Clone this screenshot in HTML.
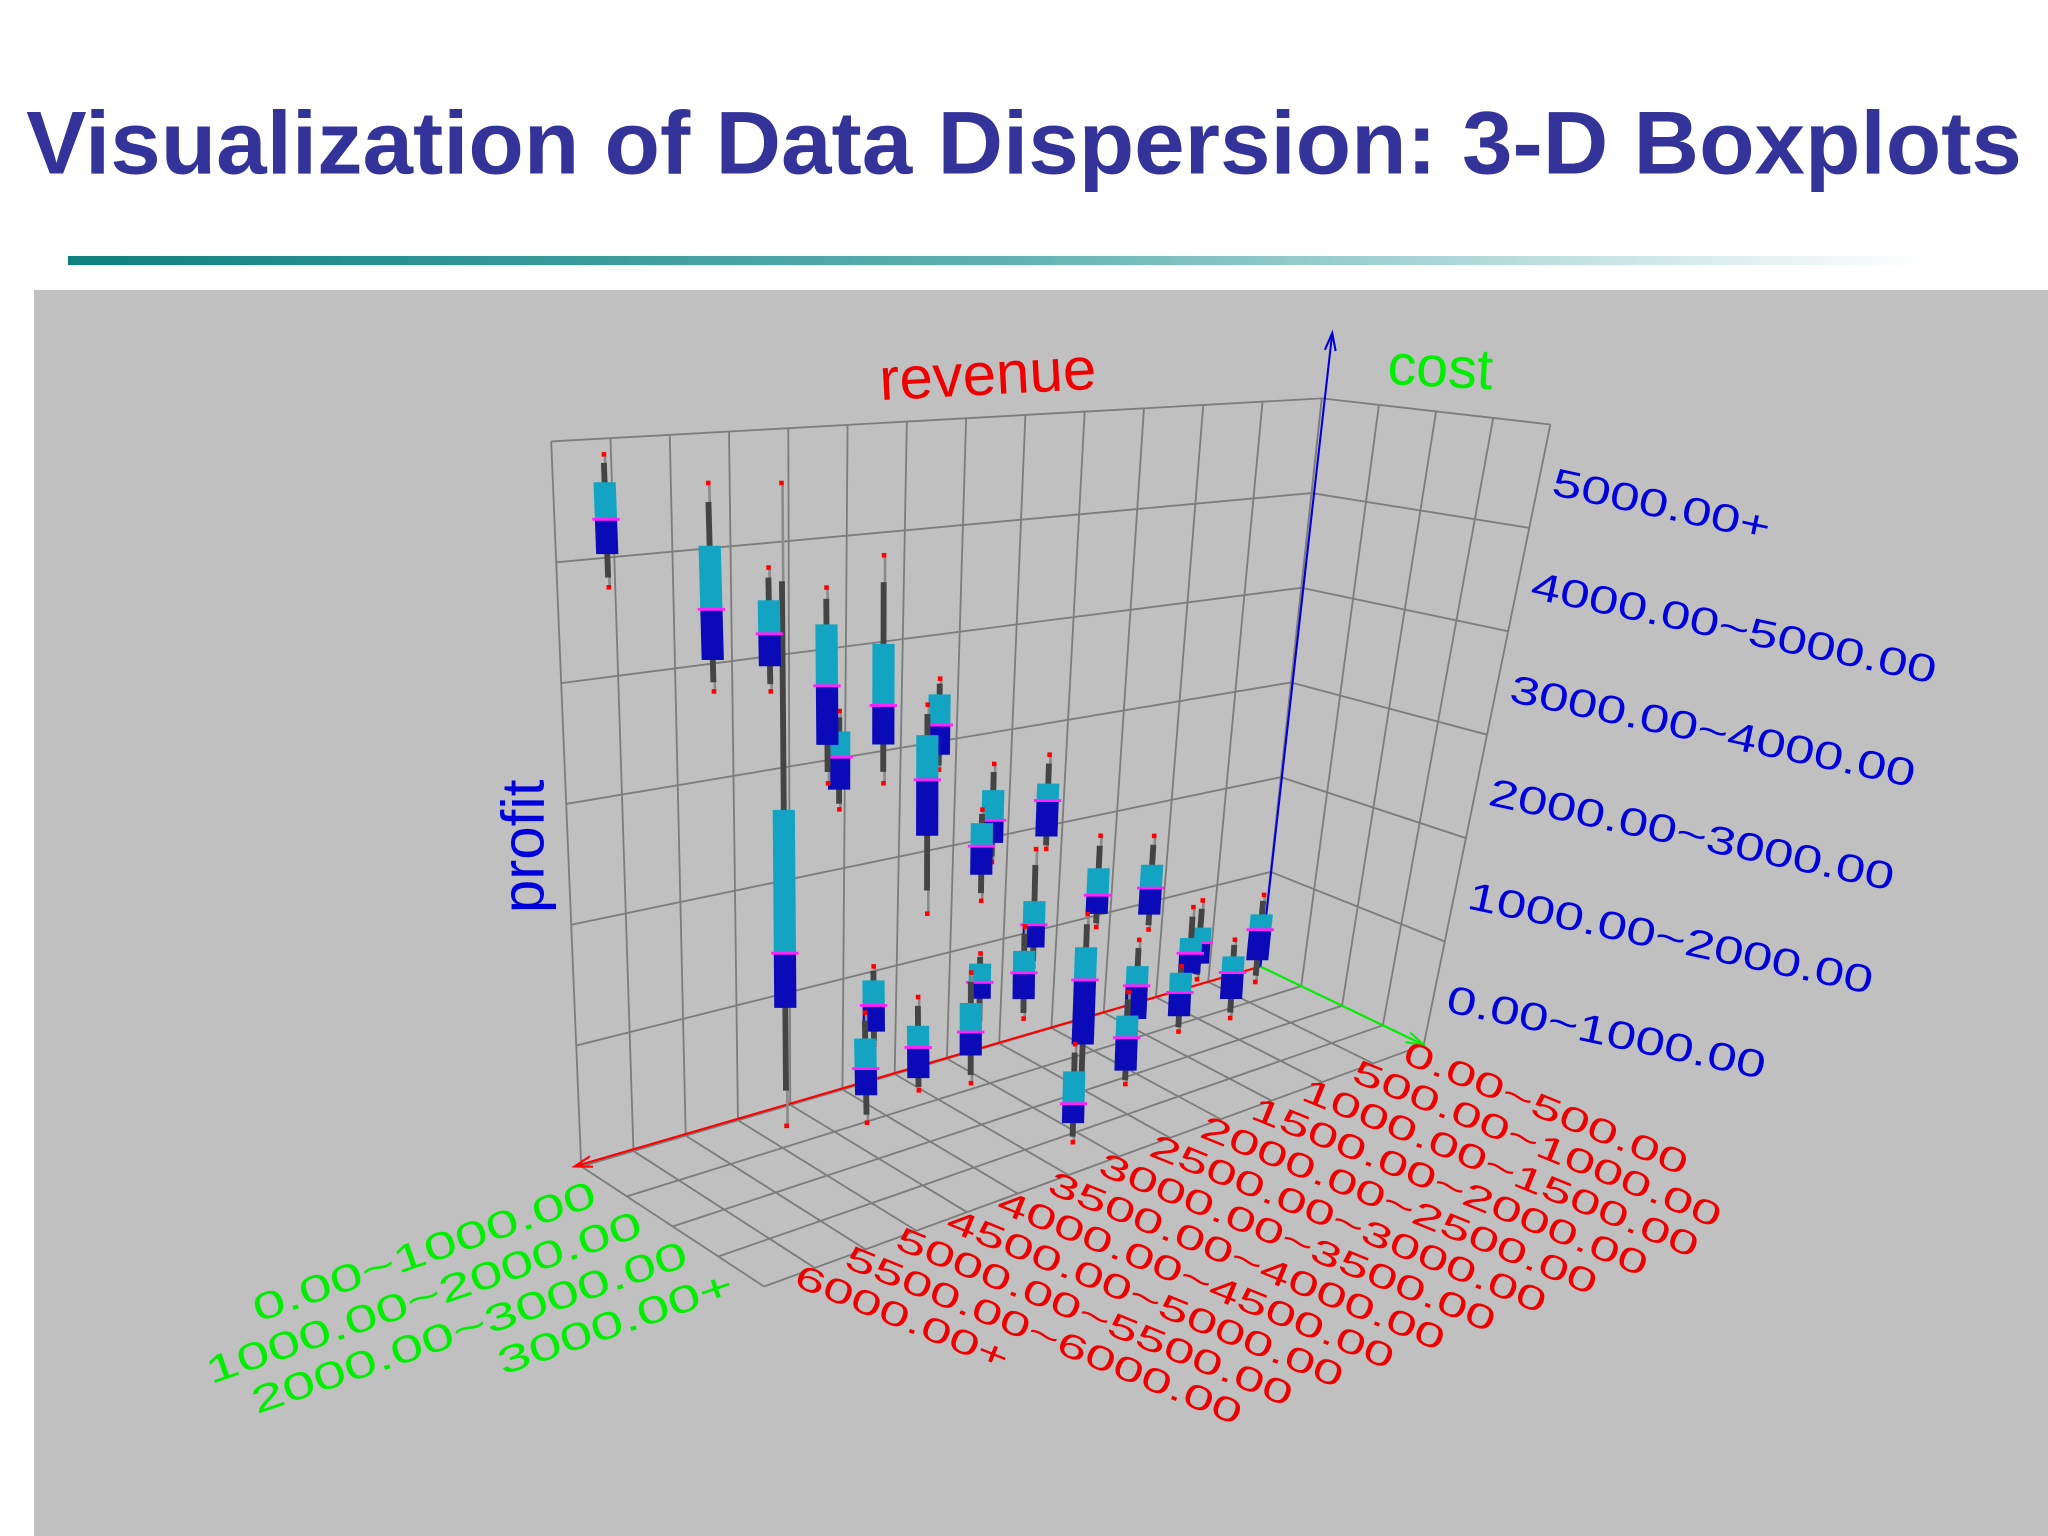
<!DOCTYPE html>
<html><head><meta charset="utf-8"><style>
html,body{margin:0;padding:0;background:#fff;}
svg{display:block;}
</style></head><body>
<svg id="chart" width="2048" height="1536" viewBox="0 0 1568 1176" xmlns="http://www.w3.org/2000/svg" font-family="Liberation Sans, sans-serif">
<defs>
<linearGradient id="rule" x1="0" x2="1" y1="0" y2="0">
<stop offset="0" stop-color="#0f7f80"/><stop offset="0.5" stop-color="#5fb0b0"/><stop offset="1" stop-color="#ffffff"/>
</linearGradient>
</defs>
<text x="20" y="133" font-size="68" font-weight="bold" fill="#333399" textLength="1528" lengthAdjust="spacingAndGlyphs">Visualization of Data Dispersion: 3-D Boxplots</text>
<rect x="52" y="196" width="1420" height="7" fill="url(#rule)"/>
<rect x="26" y="222" width="1542" height="954" fill="#c0c0c0"/>
<g id="grid"></g>
<g id="axes"></g>
<g id="boxes"></g>
<g id="labels"></g>
</svg>
<script>
const revenueLabels = ["0.00~500.00","500.00~1000.00","1000.00~1500.00","1500.00~2000.00","2000.00~2500.00","2500.00~3000.00","3000.00~3500.00","3500.00~4000.00","4000.00~4500.00","4500.00~5000.00","5000.00~5500.00","5500.00~6000.00","6000.00+"];
const costLabels = ["0.00~1000.00","1000.00~2000.00","2000.00~3000.00","3000.00+"];
const profitLabels = ["0.00~1000.00","1000.00~2000.00","2000.00~3000.00","3000.00~4000.00","4000.00~5000.00","5000.00+"];
// boxplot data: revenue category index, cost category index, profit (thousands)
const boxRev  = [12,11,10,9,9,8,8,7,8,6,7,5,4,3,6,7,5,4,3,4,2,3,0,10,9,9,8,7,6,5];
const boxCost = [0,1,1,0,1,1,0,1,2,1,2,1,1,1,2,3,2,2,2,3,1,3,0,3,3,2,3,2,3,3];
const boxMin  = [4.89,4.2,4.13,0,3.25,3.16,2.69,3.19,2.23,2.24,2.23,2.25,1.38,1.22,1.5,1.39,0.26,0.6,0.82,0.82,0.58,0.79,0.02,0.89,1.03,1.19,0.95,1.04,0.1,0.48];
const boxQ1   = [5.17,4.47,4.35,1.04,3.59,3.51,2.87,3.33,2.93,2.42,2.47,2.37,1.51,1.37,1.68,1.57,0.63,0.72,1.01,0.97,0.74,0.98,0.25,1.13,1.14,1.31,1.2,1.34,0.28,0.61];
const boxMed  = [5.46,4.9,4.63,1.52,4.11,3.86,3.16,3.6,3.43,2.63,2.73,2.71,1.69,1.63,1.89,1.81,1.24,1.04,1.21,1.2,0.95,1.24,0.57,1.36,1.41,1.54,1.41,1.49,0.46,0.92];
const boxQ3   = [5.77,5.44,4.92,2.78,4.65,4.41,3.39,3.88,3.83,2.91,2.94,2.87,1.95,1.86,2.11,2.01,1.55,1.23,1.36,1.39,1.1,1.4,0.73,1.62,1.6,1.76,1.67,1.66,0.76,1.13];
const boxMax  = [6.0,5.97,5.2,5.65,4.97,5.2,3.57,4.02,4.1,3.15,3.06,3.14,2.26,2.14,2.59,2.23,1.86,1.48,1.66,1.45,1.37,1.56,0.93,1.84,1.85,1.88,1.94,1.75,1.01,1.35];

const NS="http://www.w3.org/2000/svg";
const C=[965,740], BL=[445,893], F=[1090,800], G=[585,985], CT=[1012,305], TL=[422,338], FT=[1187,325];
const NR=13, NC=4, NP=6;
function lerp(a,b,t){return [a[0]+(b[0]-a[0])*t,a[1]+(b[1]-a[1])*t];}
function bil(p00,p10,p11,p01,s,t){return lerp(lerp(p00,p10,s),lerp(p01,p11,s),t);}
function floorPt(u,w){return bil(C,BL,G,F,u,w);}
function project(rev,cost,profit){
  const u=rev/NR, w=cost/NC;
  const base=floorPt(u,w);
  const back=lerp(C,BL,u), top=lerp(CT,TL,u);
  const k=profit/NP;
  return [base[0]+(top[0]-back[0])*k, base[1]+(top[1]-back[1])*k];
}
function el(tag,attrs,parent){const e=document.createElementNS(NS,tag);for(const k in attrs)e.setAttribute(k,attrs[k]);parent.appendChild(e);return e;}
function line(p,q,col,wd,parent,name){const e=el('line',{x1:p[0],y1:p[1],x2:q[0],y2:q[1],stroke:col,'stroke-width':wd},parent);

return e;}
const grid=document.getElementById('grid');
const gc="#7c7c7c";
for(let i=0;i<=NR;i++){const s=i/NR;line(bil(C,BL,TL,CT,s,0),bil(C,BL,TL,CT,s,1),gc,1.4,grid,'back-wall-gridline');}
for(let j=0;j<=NP;j++){const t=j/NP;line(bil(C,BL,TL,CT,0,t),bil(C,BL,TL,CT,1,t),gc,1.4,grid,'back-wall-gridline');}
for(let i=0;i<=NC;i++){const s=i/NC;line(bil(C,F,FT,CT,s,0),bil(C,F,FT,CT,s,1),gc,1.4,grid,'side-wall-gridline');}
for(let j=0;j<=NP;j++){const t=j/NP;line(bil(C,F,FT,CT,0,t),bil(C,F,FT,CT,1,t),gc,1.4,grid,'side-wall-gridline');}
for(let i=0;i<=NR;i++){const s=i/NR;line(floorPt(s,0),floorPt(s,1),gc,1.4,grid,'floor-gridline');}
for(let j=0;j<=NC;j++){const t=j/NC;line(floorPt(0,t),floorPt(1,t),gc,1.4,grid,'floor-gridline');}
const axes=document.getElementById('axes');
function arrow(p,q,col,name){
  line(p,q,col,1.6,axes,name);
  const a=Math.atan2(q[1]-p[1],q[0]-p[0]),L=14,sp=0.3;
  const h1=[q[0]-L*Math.cos(a-sp),q[1]-L*Math.sin(a-sp)],h2=[q[0]-L*Math.cos(a+sp),q[1]-L*Math.sin(a+sp)];
  const e=el('polyline',{points:`${h1} ${q} ${h2}`,fill:'none',stroke:col,'stroke-width':1.6},axes);
  
  
}
arrow(C,[440,893],'#ff0000','revenue-axis');
arrow(C,F,'#00ee00','cost-axis');
arrow(C,[1020,255],'#0000dd','profit-axis');
const boxes=document.getElementById('boxes');
const order=boxRev.map((_,i)=>i).sort((a,b)=>project(boxRev[a]+0.5,boxCost[a]+0.5,0)[1]-project(boxRev[b]+0.5,boxCost[b]+0.5,0)[1]);
order.forEach(i=>{
  const r=boxRev[i]+0.5,c=boxCost[i]+0.5;
  const g=el('g',{},boxes);
  
  
  const pMin=project(r,c,boxMin[i]),pMax=project(r,c,boxMax[i]),pQ1=project(r,c,boxQ1[i]),pMed=project(r,c,boxMed[i]),pQ3=project(r,c,boxQ3[i]);
  const w1=el('line',{x1:pMax[0]+1,y1:pMax[1],x2:pMin[0]+1,y2:pMin[1],stroke:'#8a8a8a','stroke-width':2},g);
  
  
  const a=lerp(pQ3,pMax,0.7),b=lerp(pQ1,pMin,0.7);
  const w2=el('line',{x1:a[0],y1:a[1],x2:b[0],y2:b[1],stroke:'#444','stroke-width':4.5},g);
  
  
  const hw=8.5;
  const up=el('polygon',{points:`${pQ3[0]-hw},${pQ3[1]} ${pQ3[0]+hw},${pQ3[1]} ${pMed[0]+hw},${pMed[1]} ${pMed[0]-hw},${pMed[1]}`,fill:'#12a4c2'},g);
  
  
  const lo=el('polygon',{points:`${pMed[0]-hw},${pMed[1]} ${pMed[0]+hw},${pMed[1]} ${pQ1[0]+hw},${pQ1[1]} ${pQ1[0]-hw},${pQ1[1]}`,fill:'#0a0ab8'},g);
  
  
  const m=el('line',{x1:pMed[0]-hw-2,y1:pMed[1],x2:pMed[0]+hw+2,y2:pMed[1],stroke:'#ff22ff','stroke-width':2.2},g);
  
  
  [pMin,pMax].forEach(p=>{const d=el('rect',{x:p[0]-1.5,y:p[1]-2,width:3.5,height:3.5,fill:'#ff0000'},g);
  
  });
});
const lab=document.getElementById('labels');
function txt(s,x,y,size,col,rot,anchor,name,sx){
  const e=el('text',{x:0,y:0,'font-size':size,fill:col,'text-anchor':anchor||'start',transform:`translate(${x} ${y}) rotate(${rot}) scale(${sx||1} 1)`},lab);
  e.textContent=s;
  
  
  return e;
}
txt('revenue',757,302,46,'#ee0000',-3,'middle','revenue-axis-title');
txt('cost',1102,296,44,'#00ee00',3,'middle','cost-axis-title');
txt('profit',416,648,46,'#0000dd',-90,'middle','profit-axis-title');
profitLabels.forEach((s,j)=>{
  const p=bil(C,F,FT,CT,1,(j+0.5)/NP);
  txt(s,p[0]+8,p[1]+14,30,'#0000dd',12,'start','profit-tick-label',1.35);
});
revenueLabels.forEach((s,i)=>{
  const p=floorPt((i+0.5)/NR,1);
  txt(s,p[0]+2,p[1]+6,26,'#ee0000',22,'start','revenue-tick-label',1.6);
});
costLabels.forEach((s,j)=>{
  const p=floorPt(1,(j+0.5)/NC);
  txt(s,p[0]-4,p[1]+18,29,'#00ee00',-19,'end','cost-tick-label',1.55);
});
</script>
</body></html>
